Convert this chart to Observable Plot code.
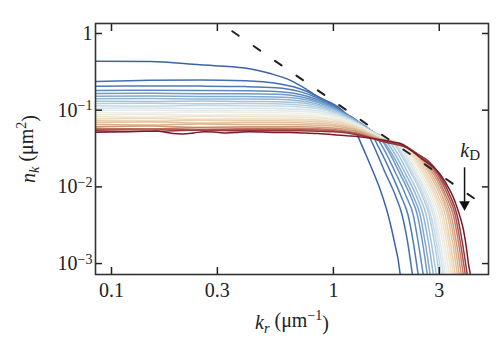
<!DOCTYPE html>
<html>
<head>
<meta charset="utf-8">
<script src="https://cdn.jsdelivr.net/npm/d3@7"></script>
<script src="https://cdn.jsdelivr.net/npm/@observablehq/plot@0.6"></script>
<style>
  html, body { margin: 0; padding: 0; background: #fff; }
  #chart { width: 500px; height: 350px; }
  #chart svg, #chart svg text, #chart svg tspan { font-family: "Liberation Serif", "Times New Roman", serif !important; }
</style>
</head>
<body>
<div id="chart"></div>
<script>
// ---- data: each spectrum n_k(k_r) as [k_r (µm^-1), n_k (µm^2)] pairs, early (blue) -> late (red)
const c01 = [[0.085,0.435],[0.15,0.43],[0.25,0.39],[0.4,0.355],[0.52,0.3],[0.64,0.245],[0.75,0.19],[0.85,0.15],[1.0,0.12],[1.1,0.099],[1.2,0.072],[1.28,0.048],[1.36,0.032],[1.5,0.0165],[1.63,0.009],[1.75,0.0047],[1.82,0.003],[1.9,0.0017],[1.96,0.0011],[2.0,0.00072],[2.06,0.0004]];
const c02 = [[0.085,0.237],[0.15,0.245],[0.25,0.248],[0.4,0.242],[0.55,0.225],[0.7,0.192],[0.85,0.151],[1.0,0.115],[1.15,0.089],[1.3,0.07],[1.36,0.062],[1.52,0.034],[1.7,0.016],[1.91,0.0075],[2.04,0.0043],[2.16,0.0019],[2.27,0.00072],[2.34,0.0004]];
const c03 = [[0.085,0.205],[0.15,0.207],[0.25,0.206],[0.4,0.203],[0.55,0.196],[0.7,0.176],[0.85,0.144],[1.0,0.113],[1.15,0.088],[1.3,0.07],[1.45,0.055],[1.61,0.0317],[1.81,0.0157],[2.02,0.0075],[2.17,0.0043],[2.29,0.0019],[2.41,0.00072],[2.48,0.0004]];
const c04 = [[0.085,0.18],[0.15,0.182],[0.25,0.181],[0.4,0.179],[0.55,0.175],[0.7,0.161],[0.85,0.137],[1.0,0.11],[1.15,0.087],[1.3,0.0695],[1.52,0.05],[1.7,0.0299],[1.905,0.0153],[2.13,0.0075],[2.29,0.0043],[2.41,0.0019],[2.54,0.00072],[2.62,0.0004]];
const c05 = [[0.085,0.165],[0.15,0.166],[0.25,0.164],[0.4,0.164],[0.55,0.161],[0.7,0.151],[0.85,0.131],[1.0,0.108],[1.15,0.086],[1.3,0.069],[1.45,0.056],[1.59,0.0467],[1.78,0.0286],[1.99,0.015],[2.23,0.0075],[2.39,0.0043],[2.52,0.0019],[2.65,0.00072],[2.73,0.0004]];
const c06 = [[0.085,0.152],[0.15,0.153],[0.25,0.151],[0.4,0.151],[0.55,0.149],[0.7,0.142],[0.85,0.126],[1.0,0.105],[1.15,0.085],[1.3,0.069],[1.45,0.056],[1.64,0.0433],[1.83,0.0273],[2.05,0.0148],[2.29,0.0075],[2.46,0.0043],[2.59,0.0019],[2.73,0.00072],[2.81,0.0004]];
const c07 = [[0.085,0.141],[0.15,0.142],[0.25,0.14],[0.4,0.14],[0.55,0.139],[0.7,0.133],[0.85,0.12],[1.0,0.102],[1.15,0.084],[1.3,0.068],[1.5,0.052],[1.69,0.0423],[1.89,0.027],[2.115,0.0148],[2.37,0.0075],[2.54,0.0043],[2.68,0.0019],[2.82,0.00072],[2.9,0.0004]];
const c08 = [[0.085,0.131],[0.15,0.13],[0.25,0.132],[0.4,0.13],[0.55,0.129],[0.7,0.125],[0.85,0.115],[1.0,0.099],[1.15,0.0825],[1.3,0.0675],[1.5,0.0524],[1.75,0.042],[1.95,0.0269],[2.18,0.0148],[2.44,0.0075],[2.62,0.0043],[2.76,0.0019],[2.91,0.00072],[3.0,0.0004]];
const c09 = [[0.085,0.122],[0.15,0.123],[0.25,0.121],[0.4,0.122],[0.55,0.121],[0.7,0.117],[0.85,0.109],[1.0,0.096],[1.15,0.0805],[1.3,0.067],[1.5,0.052],[1.7,0.0427],[1.8,0.0415],[2.01,0.0268],[2.25,0.0148],[2.52,0.0075],[2.7,0.0043],[2.85,0.0019],[3.0,0.00072],[3.09,0.0004]];
const c10 = [[0.085,0.114],[0.15,0.113],[0.25,0.115],[0.4,0.114],[0.55,0.113],[0.7,0.11],[0.85,0.104],[1.0,0.0926],[1.15,0.078],[1.3,0.066],[1.5,0.0519],[1.7,0.0433],[1.84,0.04],[2.05,0.0265],[2.295,0.0145],[2.57,0.0075],[2.75,0.0043],[2.91,0.0019],[3.06,0.00072],[3.15,0.0004]];
const c11 = [[0.085,0.106],[0.15,0.107],[0.25,0.105],[0.4,0.106],[0.55,0.105],[0.7,0.103],[0.85,0.098],[1.0,0.089],[1.15,0.077],[1.3,0.065],[1.5,0.0512],[1.7,0.043],[1.88,0.0398],[2.1,0.0264],[2.35,0.0145],[2.63,0.0075],[2.82,0.0043],[2.97,0.0019],[3.13,0.00072],[3.22,0.0004]];
const c12 = [[0.085,0.099],[0.15,0.1],[0.25,0.098],[0.4,0.099],[0.55,0.0985],[0.7,0.097],[0.85,0.093],[1.0,0.0853],[1.15,0.075],[1.3,0.064],[1.5,0.0508],[1.7,0.0426],[1.91,0.0391],[2.14,0.0263],[2.39,0.0145],[2.68,0.0075],[2.87,0.0043],[3.03,0.0019],[3.19,0.00072],[3.29,0.0004]];
const c13 = [[0.085,0.093],[0.15,0.092],[0.25,0.094],[0.4,0.093],[0.55,0.0926],[0.7,0.0913],[0.85,0.088],[1.0,0.082],[1.15,0.072],[1.3,0.0625],[1.5,0.0502],[1.7,0.0428],[1.96,0.038],[2.18,0.0258],[2.445,0.0145],[2.74,0.0075],[2.93,0.0043],[3.1,0.0019],[3.26,0.00072],[3.36,0.0004]];
const c14 = [[0.085,0.087],[0.15,0.088],[0.25,0.086],[0.4,0.087],[0.55,0.0867],[0.7,0.0857],[0.85,0.083],[1.0,0.078],[1.15,0.07],[1.3,0.061],[1.5,0.0498],[1.7,0.0423],[1.85,0.0395],[2.0,0.037],[2.23,0.0255],[2.5,0.0145],[2.8,0.0075],[3.0,0.0043],[3.16,0.0019],[3.33,0.00072],[3.43,0.0004]];
const c15 = [[0.085,0.082],[0.15,0.081],[0.25,0.083],[0.4,0.082],[0.55,0.0818],[0.7,0.081],[0.85,0.0789],[1.0,0.0746],[1.15,0.068],[1.3,0.06],[1.5,0.0492],[1.7,0.0418],[1.9,0.0385],[2.04,0.036],[2.28,0.0251],[2.55,0.0145],[2.86,0.0075],[3.06,0.0043],[3.23,0.0019],[3.4,0.00072],[3.5,0.0004]];
const c16 = [[0.085,0.077],[0.15,0.078],[0.25,0.076],[0.4,0.077],[0.55,0.0769],[0.7,0.0762],[0.85,0.0745],[1.0,0.071],[1.15,0.0657],[1.3,0.0585],[1.5,0.0485],[1.7,0.0412],[1.9,0.0381],[2.08,0.0354],[2.32,0.0249],[2.6,0.0145],[2.91,0.0075],[3.12,0.0043],[3.3,0.0019],[3.47,0.00072],[3.57,0.0004]];
const c17 = [[0.085,0.073],[0.15,0.072],[0.25,0.074],[0.4,0.073],[0.55,0.0729],[0.7,0.0723],[0.85,0.071],[1.0,0.0683],[1.15,0.0635],[1.3,0.0566],[1.5,0.0478],[1.7,0.0409],[1.9,0.038],[2.12,0.0343],[2.37,0.0245],[2.655,0.0145],[2.97,0.0075],[3.19,0.0043],[3.36,0.0019],[3.54,0.00072],[3.65,0.0004]];
const c18 = [[0.085,0.069],[0.15,0.07],[0.25,0.068],[0.4,0.069],[0.55,0.069],[0.7,0.0685],[0.85,0.0673],[1.0,0.0651],[1.15,0.061],[1.3,0.0552],[1.5,0.047],[1.7,0.0407],[1.9,0.0373],[2.17,0.0328],[2.43,0.024],[2.715,0.0145],[3.04,0.0075],[3.26,0.0043],[3.44,0.0019],[3.62,0.00072],[3.73,0.0004]];
const c19 = [[0.085,0.065],[0.15,0.064],[0.25,0.066],[0.4,0.065],[0.55,0.065],[0.7,0.0647],[0.85,0.0638],[1.0,0.062],[1.15,0.0585],[1.3,0.0537],[1.5,0.046],[1.7,0.0403],[1.9,0.0373],[2.21,0.0317],[2.47,0.0236],[2.77,0.0145],[3.1,0.0075],[3.32,0.0043],[3.51,0.0019],[3.69,0.00072],[3.8,0.0004]];
const c20 = [[0.085,0.061],[0.15,0.062],[0.25,0.06],[0.4,0.061],[0.55,0.061],[0.7,0.0608],[0.85,0.0601],[1.0,0.0586],[1.15,0.0558],[1.3,0.0518],[1.5,0.0448],[1.7,0.0399],[1.9,0.0371],[2.26,0.03],[2.53,0.023],[2.83,0.0145],[3.17,0.0075],[3.39,0.0043],[3.58,0.0019],[3.77,0.00072],[3.88,0.0004]];
const c21 = [[0.085,0.058],[0.15,0.057],[0.25,0.059],[0.4,0.058],[0.55,0.058],[0.7,0.0578],[0.85,0.0572],[1.0,0.0558],[1.15,0.0533],[1.3,0.0496],[1.5,0.0436],[1.7,0.0392],[1.9,0.0366],[2.1,0.0339],[2.31,0.0288],[2.58,0.0225],[2.89,0.0145],[3.23,0.0075],[3.47,0.0043],[3.66,0.0019],[3.85,0.00072],[3.97,0.0004]];
const c22 = [[0.085,0.056],[0.15,0.057],[0.25,0.055],[0.4,0.056],[0.55,0.056],[0.7,0.0558],[0.85,0.0552],[1.0,0.054],[1.15,0.0518],[1.3,0.0486],[1.5,0.0432],[1.7,0.0388],[1.9,0.0363],[2.1,0.0336],[2.36,0.0275],[2.63,0.022],[2.95,0.0145],[3.3,0.0075],[3.54,0.0043],[3.73,0.0019],[3.93,0.00072],[4.05,0.0004]];
const c23 = [[0.085,0.054],[0.15,0.053],[0.25,0.055],[0.4,0.054],[0.55,0.054],[0.7,0.0538],[0.85,0.0533],[1.0,0.0523],[1.15,0.0504],[1.3,0.0475],[1.5,0.0427],[1.7,0.0384],[1.9,0.036],[2.1,0.0333],[2.41,0.0263],[2.69,0.0215],[3.0,0.0145],[3.37,0.0075],[3.61,0.0043],[3.81,0.0019],[4.01,0.00072],[4.13,0.0004]];
const c24 = [[0.085,0.0515],[0.1,0.052],[0.12,0.0525],[0.14,0.053],[0.16,0.0535],[0.175,0.0515],[0.19,0.0495],[0.21,0.049],[0.235,0.0505],[0.26,0.0525],[0.29,0.052],[0.33,0.0505],[0.37,0.0512],[0.42,0.0525],[0.48,0.052],[0.55,0.0512],[0.63,0.0512],[0.72,0.0505],[0.85,0.0495],[1.0,0.048],[1.15,0.0465],[1.3,0.0452],[1.5,0.0428],[1.7,0.0405],[1.9,0.038],[2.05,0.0357],[2.2,0.031],[2.35,0.027],[2.52,0.0228],[2.73,0.0196],[2.9,0.0168],[3.1,0.0133],[3.3,0.0098],[3.47,0.0073],[3.6,0.0055],[3.73,0.004],[3.85,0.0028],[3.93,0.002],[4.0,0.0014],[4.06,0.001],[4.14,0.00072],[4.2,0.0005]];

// dashed k^-2 guide line (end points)
const guideLine = [[0.35, 1.07], [4.3, 0.0071]];
// k_D arrow and label
const kDArrow = [{k: 3.9, nFrom: 0.018, nTo: 0.0062, nTip: 0.0059}];
const kDLabel = [{k: 3.73, n: 0.0298, text: "kD"}];

// axes
const xTicks = [0.1, 0.3, 1, 3];
const xTickLabels = ["0.1", "0.3", "1", "3"];
const yTicks = [0.001, 0.01, 0.1, 1];
const yTickLabels = ["10^−3", "10^−2", "10^−1", "1"];

// ---- chart
const series = [c01,c02,c03,c04,c05,c06,c07,c08,c09,c10,c11,c12,c13,c14,c15,c16,c17,c18,c19,c20,c21,c22,c23,c24];
const colorScale = d3.scaleLinear()
  .domain([0, 0.08, 0.2, 0.32, 0.44, 0.52, 0.62, 0.72, 0.8, 0.87, 0.93, 1])
  .range(["#3b64a8", "#4a78b5", "#79a4cc", "#a8c8de", "#d5e4ea", "#eeeeea", "#efe2c8", "#e5c9a5", "#d9ab87", "#c47e66", "#a64a48", "#7a1b2b"])
  .interpolate(d3.interpolateRgb);

const xFmt = d => xTickLabels[xTicks.indexOf(d)];
const yFmt = d => yTickLabels[yTicks.indexOf(d)];
const serif = "Liberation Serif, Times New Roman, serif";

const svg = Plot.plot({
  width: 500,
  height: 350,
  marginLeft: 95,
  marginRight: 12,
  marginTop: 23,
  marginBottom: 76,
  style: {fontFamily: serif, fontSize: "20px", color: "#222", background: "#fff"},
  x: {type: "log", domain: [0.0847, 5.0]},
  y: {type: "log", domain: [0.00072, 1.35]},
  marks: [
    ...series.map((s, i) => Plot.line(s, {
      x: d => d[0], y: d => d[1],
      stroke: colorScale(i / (series.length - 1)),
      strokeWidth: 1.5, curve: "monotone-x", clip: true
    })),
    Plot.line(guideLine, {x: d => d[0], y: d => d[1], stroke: "#222", strokeWidth: 2, strokeDasharray: "8,18", clip: true}),
    Plot.link(kDArrow, {x1: "k", x2: "k", y1: "nFrom", y2: "nTo", stroke: "#111", strokeWidth: 1.5}),
    Plot.dot(kDArrow, {x: "k", y: "nTip", symbol: "triangle", rotate: 180, r: 4, fill: "#111", stroke: null}),
    Plot.text(kDLabel, {x: "k", y: "n", text: "text", textAnchor: "start", fontSize: 20, fontFamily: serif, fill: "#222"}),
    Plot.axisX({anchor: "bottom", ticks: xTicks, tickSize: -7, tickPadding: 15, tickFormat: xFmt, fontFamily: serif, strokeWidth: 1.5, label: "kr (μm−1)", labelAnchor: "center", labelOffset: 54}),
    Plot.axisX({anchor: "top", ticks: xTicks, tickSize: -7, tickFormat: () => "", strokeWidth: 1.5, label: null}),
    Plot.axisY({anchor: "left", ticks: yTicks, tickSize: -7, tickPadding: 10, tickFormat: yFmt, fontFamily: serif, strokeWidth: 1.5, label: "nk (μm2)", labelAnchor: "center", labelOffset: 75}),
    Plot.axisY({anchor: "right", ticks: yTicks, tickSize: -7, tickFormat: () => "", strokeWidth: 1.5, label: null}),
    Plot.frame({stroke: "#333", strokeWidth: 1.6})
  ]
});

// typographic touches: superscripts, subscripts, italics
svg.querySelectorAll('g[aria-label="y-axis tick label"] text').forEach(t => {
  const s = t.textContent;
  if (s.startsWith("10^")) {
    t.innerHTML = `10<tspan dy="-0.45em" font-size="0.7em">${s.slice(3)}</tspan>`;
  }
});
const xl = svg.querySelector('g[aria-label="x-axis label"] text');
if (xl) xl.innerHTML = '<tspan font-style="italic">k</tspan><tspan font-style="italic" font-size="0.72em" dy="0.3em">r</tspan><tspan dy="-0.3em"> (μm</tspan><tspan font-size="0.7em" dy="-0.5em">−1</tspan><tspan dy="0.5em">)</tspan>';
const yl = svg.querySelector('g[aria-label="y-axis label"] text');
if (yl) yl.innerHTML = '<tspan font-style="italic">n</tspan><tspan font-style="italic" font-size="0.72em" dy="0.3em">k</tspan><tspan dy="-0.3em"> (μm</tspan><tspan font-size="0.7em" dy="-0.5em">2</tspan><tspan dy="0.5em">)</tspan>';
svg.querySelectorAll('g[aria-label="text"] text').forEach(t => {
  if (t.textContent === "kD") {
    t.innerHTML = '<tspan font-style="italic">k</tspan><tspan font-size="0.75em" dy="0.2em">D</tspan>';
  }
});
svg.querySelectorAll("text").forEach(t => t.setAttribute("font-family", serif));

document.getElementById("chart").appendChild(svg);
</script>
</body>
</html>
